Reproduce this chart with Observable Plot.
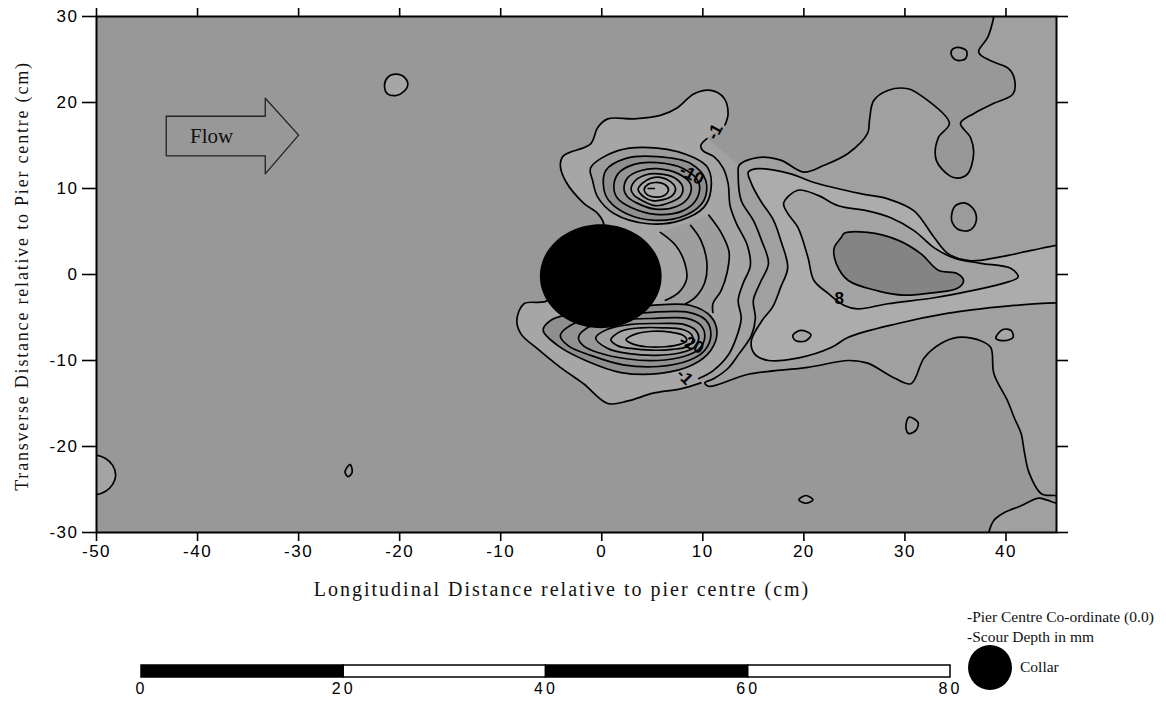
<!DOCTYPE html>
<html><head><meta charset="utf-8">
<script src="https://cdn.jsdelivr.net/npm/d3@7"></script>
<script src="https://cdn.jsdelivr.net/npm/@observablehq/plot@0.6"></script>
<style>
body{margin:0;background:#fff;}
#wrap{position:relative;width:1166px;height:704px;overflow:hidden;background:#fff;}
.lab{position:absolute;font-family:"Liberation Serif","Times New Roman",serif;color:#111;white-space:nowrap;line-height:1;}
</style></head><body><div id="wrap"></div>
<script>
// ---------- axes ----------
const xTicks = [-50,-40,-30,-20,-10,0,10,20,30,40];
const yTicks = [-30,-20,-10,0,10,20,30];

// ---------- contour lines (cm) ----------
const contourUpperLeft = [[12.2,17.4],[12.5,18.7],[12.1,20.5],[10.8,21.4],[9.1,21.0],[7.5,19.4],[5.8,18.5],[3.2,18.1],[0.6,18.1],[-0.4,17.1],[-1.1,15.2],[-3.8,13.8],[-4.1,12.7],[-3.6,10.9],[-1.8,8.3],[-0.4,7.1],[0.2,5.6],[-3.0,2.0],[-5.3,-3.0],[-7.7,-3.4],[-8.4,-5.3],[-8.0,-6.9],[-6.4,-8.6],[-4.1,-10.8],[-1.8,-12.7],[0.6,-15.0],[2.6,-14.7],[5.1,-13.8],[7.8,-13.3],[9.8,-12.6]];
const contourMid1 = [[10.4,15.8],[9.8,15.0],[10.0,14.4],[11.1,13.7],[12.0,12.4],[12.5,10.6],[12.7,8.0],[13.3,6.0],[14.4,3.4],[14.7,1.0],[14.0,-1.0],[13.5,-3.0],[13.8,-5.1],[13.3,-7.4],[12.5,-9.4],[11.0,-11.2],[9.6,-12.1]];
const contourTopRight = [[38.9,31],[38.8,30],[38.2,27.6],[37.3,26.0],[37.5,25.5],[38.8,24.7],[40.2,24.0],[40.8,22.9],[40.7,21.0],[38.8,19.9],[36.8,18.7],[35.5,17.6],[36.5,15.9],[36.8,14.1],[36.2,11.7],[35.2,11.2],[34.4,11.5],[33.1,13.3],[33.3,15.9],[34.4,17.6],[31.6,20.8],[30.3,21.6],[28.3,21.4],[26.9,20.2],[26.5,18.0],[26.3,16.4],[24.4,14.1],[22.0,12.7],[20.0,11.9],[17.7,13.3],[15.4,13.6]];
const contourMid2 = [[13.6,12.7],[13.5,11.7],[13.8,8.6],[15.0,6.3],[15.8,4.0],[16.5,1.3],[15.7,-0.9],[15.0,-3.0],[15.2,-5.1],[14.8,-7.1],[13.6,-9.2],[12.5,-10.9],[11.1,-12.1],[10.2,-12.6]];
const contourLower = [[10.6,-13.0],[14.5,-11.6],[20.4,-10.8],[24.4,-10.0],[26.3,-10.3],[28.9,-12.0],[30.6,-12.7],[31.9,-9.7],[33.6,-8.0],[35.2,-7.3],[37.5,-7.7],[38.5,-8.5],[38.8,-11.5],[40.2,-14.8],[40.8,-16.6],[41.5,-18.5],[41.8,-20.5],[42.3,-23.1],[43.5,-25.5],[44.8,-25.7],[46,-25.8]];
const contourCornerLens = [[38.2,-31],[38.3,-30],[38.8,-28.6],[39.8,-27.7],[41.5,-26.9],[43.2,-26.0],[44.0,-26.2],[45,-26.6],[46,-26.8]];
const contourWake = [[46,3.5],[45,3.4],[42.5,2.8],[39.2,2.0],[36.5,1.6],[34.3,2.4],[32.9,4.3],[30.9,7.4],[28.3,8.8],[25.6,9.4],[21.0,10.7],[18.7,11.7],[15.4,12.3],[14.5,11.9],[14.8,10.6],[15.7,8.6],[17.0,6.3],[17.7,4.0],[18.4,0.8],[17.7,-1.5],[16.9,-3.8],[15.9,-5.3],[14.8,-7.7],[15.1,-9.2],[16.5,-10.0],[19.5,-9.7],[22.7,-8.5],[24.4,-7.3],[29.3,-5.7],[34.3,-4.5],[37.5,-4.0],[40.8,-3.6],[45,-3.3],[46,-3.3]];
const contourWakeInner = [[18.0,8.3],[19.4,9.8],[21.4,9.2],[23.4,8.0],[26.3,7.4],[28.6,6.6],[30.9,5.1],[32.9,3.1],[34.9,1.9],[37.5,1.3],[40.5,0.7],[41.2,-0.3],[39.8,-1.0],[36.5,-1.9],[32.9,-2.7],[28.3,-3.4],[25.3,-4.0],[24.0,-3.6],[22.4,-2.2],[21.0,-0.7],[20.4,2.0],[19.4,5.5],[18.4,7.1]];
const contourMound = [[23.7,4.3],[24.0,4.8],[26.3,4.9],[29.3,4.0],[31.6,2.4],[33.3,0.5],[35.2,0.1],[35.8,-0.7],[35.2,-1.6],[32.9,-2.1],[29.9,-2.4],[27.3,-1.9],[24.4,-0.7],[23.2,1.3],[23.0,3.1]];
const hug1 = [[5.8,4.9],[7.3,3.4],[8.2,1.4],[8.4,-0.5],[7.6,-2.1],[6.3,-3.0]];
const hug2 = [[8.8,5.7],[9.8,4.0],[10.4,1.4],[10.2,-0.9],[9.3,-2.6],[8.3,-3.4]];
const hug3 = [[10.6,6.9],[11.8,4.9],[12.6,2.6],[12.4,0.2],[11.8,-1.9],[11.0,-3.4],[11.0,-4.4]];
const leftEdgeLoop = [[-51,-21.0],[-50,-21.0],[-49.1,-21.4],[-48.4,-22.2],[-48.1,-23.3],[-48.4,-24.4],[-49.1,-25.2],[-50,-25.6],[-51,-25.6]];

// small closed islands
const islands = [
  [[-21.5,22.0],[-21.2,22.9],[-20.4,23.3],[-19.5,22.9],[-19.2,22.0],[-19.9,21.0],[-20.4,20.8],[-21.2,21.0]],
  [[34.6,6.7],[35.0,8.0],[36.0,8.3],[36.9,7.4],[37.0,6.0],[36.3,5.1],[35.2,5.3],[34.7,6.0]],
  [[34.6,26.0],[35.2,26.4],[36.1,26.0],[36.0,25.1],[35.2,24.9],[34.7,25.3]],
  [[18.9,-7.1],[19.7,-6.5],[20.7,-7.0],[20.2,-7.7],[19.2,-7.7]],
  [[39.0,-7.4],[39.7,-6.4],[40.5,-6.5],[40.7,-7.3],[39.8,-7.7]],
  [[30.1,-17.8],[30.4,-16.6],[31.3,-17.2],[31.1,-18.1],[30.4,-18.5]],
  [[19.5,-26.2],[20.2,-25.7],[20.9,-26.2],[20.2,-26.6]],
  [[-25.3,-22.6],[-24.9,-22.1],[-24.7,-23.0],[-25.1,-23.5],[-25.4,-23.0]]
];

// scour hole upper rings, outer to inner
const upperRings = [
  [[-0.9,10.9],[-1.1,12.4],[1.6,14.4],[5.5,14.7],[9.1,13.6],[10.5,12.4],[10.8,9.8],[10.1,7.8],[7.8,6.3],[4.6,5.9],[1.2,7.1],[-0.4,9.0]],
  [[0.2,10.0],[0.4,12.1],[2.4,13.5],[5.5,13.7],[8.8,12.9],[10.3,10.9],[10.1,8.6],[8.3,6.9],[5.3,6.3],[2.4,7.1],[0.7,8.6]],
  [[1.2,10.0],[1.6,11.7],[3.2,12.8],[5.5,13.0],[8.1,12.3],[9.6,10.7],[9.4,8.8],[8.0,7.4],[5.3,7.0],[2.9,7.8],[1.6,8.8]],
  [[2.2,9.9],[2.6,11.3],[3.9,12.1],[5.5,12.3],[7.6,11.7],[8.8,10.5],[8.6,9.0],[7.4,7.9],[5.3,7.6],[3.5,8.3],[2.5,9.1]],
  [[2.9,9.9],[3.3,10.9],[4.4,11.6],[5.6,11.7],[7.1,11.3],[8.0,10.2],[7.8,9.1],[6.8,8.4],[5.3,8.0],[4.0,8.6],[3.2,9.2]],
  [[3.6,9.9],[4.0,10.6],[4.9,11.2],[5.8,11.3],[6.8,10.8],[7.3,10.0],[7.0,9.2],[6.1,8.7],[5.0,8.6],[4.2,9.0]],
  [[4.2,9.9],[4.6,10.5],[5.3,10.7],[6.2,10.5],[6.6,9.9],[6.2,9.2],[5.3,9.0],[4.6,9.2]]
];
// lower rings, outer to inner
const lowerRings = [
  [[-5.8,-6.5],[-5.0,-5.3],[-2.6,-4.5],[0.9,-4.2],[4.9,-3.6],[8.8,-3.6],[10.8,-4.9],[11.4,-6.7],[10.8,-8.8],[9.0,-10.5],[5.8,-11.5],[1.9,-11.4],[-1.6,-10.0],[-4.3,-8.3]],
  [[-4.1,-7.1],[-2.6,-5.6],[0.9,-4.9],[4.9,-4.4],[8.6,-4.4],[10.3,-5.3],[10.8,-7.0],[10.2,-8.8],[8.6,-10.0],[5.6,-10.7],[2.1,-10.5],[-1.1,-9.4],[-3.3,-8.3]],
  [[-2.3,-7.3],[-1.1,-6.0],[1.9,-5.3],[5.3,-5.1],[8.4,-5.1],[9.8,-5.9],[10.2,-7.2],[9.6,-8.7],[8.2,-9.5],[5.5,-10.0],[2.4,-9.8],[-0.3,-9.1],[-1.8,-8.3]],
  [[-0.6,-7.4],[0.5,-6.4],[2.9,-5.8],[5.6,-5.7],[8.1,-5.8],[9.3,-6.5],[9.6,-7.4],[9.1,-8.5],[7.8,-9.1],[5.4,-9.4],[2.7,-9.2],[0.6,-8.6]],
  [[0.9,-7.6],[1.9,-6.6],[3.9,-6.2],[6.0,-6.2],[8.0,-6.4],[8.9,-7.0],[9.0,-7.7],[8.4,-8.4],[7.0,-8.7],[4.9,-8.8],[2.9,-8.6],[1.6,-8.3]],
  [[2.4,-7.6],[3.4,-6.9],[5.0,-6.6],[6.8,-6.7],[8.1,-7.1],[8.4,-7.7],[7.8,-8.1],[6.3,-8.4],[4.4,-8.4],[3.1,-8.1]]
];
const holeCentreMark = [[4.6,10.0],[5.2,10.0]];

// contour labels
const contourLabels = [
  {x: 8.9, y: 11.6, text: "-10", rotate: 28},
  {x: 8.9, y: -8.1, text: "-20", rotate: 25},
  {x: 11.2, y: 16.6, text: "-1", rotate: -62},
  {x: 8.2, y: -11.9, text: "-1", rotate: 45},
  {x: 23.5, y: -2.8, text: "8", rotate: 0}
];

// pier collar (centre & radius, cm)
const collar = {x: -0.1, y: -0.2, r: 5.95};

// flow arrow annotation
const flowArrow = [[-43.1,18.4],[-33.3,18.4],[-33.3,20.5],[-30.0,16.2],[-33.3,11.7],[-33.3,13.8],[-43.1,13.8]];
const flowLabel = [{x: -38.6, y: 16.1, text: "Flow"}];

// scale bar
const scaleStarts = [0,20,40,60];
const scaleEnds = [20,40,60,80];
const scaleFills = ["black","white","black","white"];
const scaleLabels = [0,20,40,60,80];

// ---------- build ----------
const collarOutline = d3.range(0, 360, 3).map(a => [collar.x + collar.r*Math.cos(a*Math.PI/180), collar.y + collar.r*Math.sin(a*Math.PI/180)]);
const X = d => d[0], Y = d => d[1];
const stroke = (pts, curve="catmull-rom") => Plot.line(pts, {x: X, y: Y, stroke: "#000", strokeWidth: 1.7, curve, clip: true});
const fillP = (pts, fill, curve="catmull-rom") => Plot.line(pts, {x: X, y: Y, fill, stroke: "none", curve, clip: true});
const rev = a => a.slice().reverse();

const wakeEnvelope = [...contourTopRight, ...contourMid2, ...contourLower, [47,-25.8],[47,32],[38.9,32]];
const scourEnvelope = [...contourUpperLeft, ...rev(contourMid1)];
const midBand = [...contourMid1, ...rev(contourMid2)];
const hugBand = [...hug1, ...rev(hug3)];
const cornerLens = [...contourCornerLens, [47,-31]];

const upperFills = ["#9c9c9c","#8f8f8f","#949494","#9c9c9c","#a4a4a4","#a9a9a9","#acacac"];
const lowerFills = ["#8f8f8f","#929292","#989898","#a0a0a0","#a6a6a6","#aaaaaa"];
const islandFills = ["#a6a6a6","#9b9b9b","#9b9b9b","#a6a6a6","#a6a6a6","#9b9b9b","#a0a0a0","#9b9b9b"];

const marks = [
  Plot.frame({fill: "#989898", stroke: "none"}),
  fillP(wakeEnvelope, "#a0a0a0"),
  fillP(cornerLens, "#a0a0a0"),
  fillP(leftEdgeLoop, "#a4a4a4"),
  fillP(midBand, "#a2a2a2"),
  fillP(scourEnvelope, "#a6a6a6"),
  fillP(hugBand, "#9e9e9e"),
  fillP(contourWake, "#acacac"),
  fillP(contourWakeInner, "#a4a4a4", "catmull-rom-closed"),
  fillP(contourMound, "#848484", "catmull-rom-closed"),
  ...islands.map((p,i) => fillP(p, islandFills[i], "catmull-rom-closed")),
  ...upperRings.map((p,i) => fillP(p, upperFills[i], "catmull-rom-closed")),
  ...lowerRings.map((p,i) => fillP(p, lowerFills[i], "catmull-rom-closed")),
  // contour strokes
  stroke(contourUpperLeft), stroke(contourMid1),
  stroke([...contourTopRight, ...contourMid2, ...contourLower]),
  stroke(contourCornerLens), stroke(contourWake),
  stroke(contourWakeInner, "catmull-rom-closed"), stroke(contourMound, "catmull-rom-closed"),
  stroke(hug1), stroke(hug2), stroke(hug3), stroke(leftEdgeLoop),
  ...islands.map(p => stroke(p, "catmull-rom-closed")),
  ...upperRings.map(p => stroke(p, "catmull-rom-closed")),
  ...lowerRings.map(p => stroke(p, "catmull-rom-closed")),
  stroke(holeCentreMark, "linear"),
  // collar
  Plot.line(collarOutline, {x: X, y: Y, fill: "#000", stroke: "#000", curve: "linear-closed"}),
  // labels
  Plot.text(contourLabels, {x: "x", y: "y", text: "text", rotate: "rotate", fontSize: 17, fontWeight: "bold", fill: "#000", fontFamily: "Liberation Sans, Arial, sans-serif"}),
  // flow arrow
  Plot.line(flowArrow, {x: X, y: Y, stroke: "#222", strokeWidth: 1.3, curve: "linear-closed", fill: "none"}),
  Plot.text(flowLabel, {x: "x", y: "y", text: "text", fontSize: 21, fill: "#111", fontFamily: "Liberation Serif, Times New Roman, serif"}),
  Plot.frame({stroke: "#000", strokeWidth: 2}),
  Plot.axisX({ticks: xTicks, anchor: "bottom", tickSize: 9, tickPadding: 3, label: null, tickFormat: d => String(d), strokeWidth: 1.6}),
  Plot.axisX({ticks: xTicks, anchor: "top", tickSize: 9, label: null, tickFormat: () => "", strokeWidth: 1.6}),
  Plot.axisY({ticks: yTicks, anchor: "left", tickSize: 14, tickPadding: 4, label: null, tickFormat: d => String(d), strokeWidth: 1.6}),
  Plot.axisY({ticks: yTicks, anchor: "right", tickSize: 11, label: null, tickFormat: () => "", strokeWidth: 1.6})
];

const main = Plot.plot({
  width: 1166, height: 560,
  marginLeft: 96, marginRight: 110, marginTop: 16, marginBottom: 28,
  x: {domain: [-50, 45]},
  y: {domain: [-30, 30]},
  style: {fontFamily: "Liberation Sans, Arial, sans-serif", fontSize: "16px", color: "#000", background: "transparent", overflow: "visible"},
  marks
});
// enlarge tick labels to match the reference's wide digits
main.querySelectorAll('g[aria-label="x-axis tick label"] text, g[aria-label="y-axis tick label"] text').forEach(t => {
  t.style.fontSize = "17px"; t.style.letterSpacing = "1.5px"; t.style.fontFamily = "Liberation Sans, Arial, sans-serif";
});
const wrap = document.getElementById("wrap");
main.style.position = "absolute"; main.style.left = "0px"; main.style.top = "0px";
wrap.appendChild(main);

const bar = Plot.plot({
  width: 1166, height: 48,
  marginLeft: 141, marginRight: 216, marginTop: 10, marginBottom: 26,
  x: {domain: [0, 80]},
  y: {domain: [0, 1], axis: null},
  color: {type: "identity"},
  style: {fontFamily: "Liberation Sans, Arial, sans-serif", fontSize: "15px", color: "#000", background: "transparent"},
  marks: [
    Plot.rect(scaleStarts, {x1: d => d, x2: (d,i) => scaleEnds[i], y1: 0, y2: 1, fill: (d,i) => scaleFills[i], stroke: "#000", strokeWidth: 1.5}),
    Plot.axisX({ticks: scaleLabels, tickSize: 0, tickPadding: 5, label: null, tickFormat: d => String(d)})
  ]
});
bar.querySelectorAll('g[aria-label="x-axis tick label"] text').forEach(t => {
  t.style.fontSize = "16px"; t.style.letterSpacing = "3px";
});
bar.style.position = "absolute"; bar.style.left = "0px"; bar.style.top = "655px";
wrap.appendChild(bar);

function addLabel(text, css) {
  const d = document.createElement("div");
  d.className = "lab"; d.textContent = text;
  Object.assign(d.style, css);
  wrap.appendChild(d);
  return d;
}
addLabel("Longitudinal Distance relative to pier centre (cm)", {left: "562px", top: "579px", fontSize: "20px", letterSpacing: "2px", transform: "translateX(-50%)"});
addLabel("Transverse Distance relative to Pier centre (cm)", {left: "22px", top: "276px", fontSize: "18px", letterSpacing: "1.8px", transform: "translate(-50%,-50%) rotate(-90deg)"});
addLabel("-Pier Centre Co-ordinate (0.0)", {left: "967px", top: "609px", fontSize: "15.5px"});
addLabel("-Scour Depth in mm", {left: "967px", top: "629px", fontSize: "15.5px"});
addLabel("Collar", {left: "1020px", top: "659px", fontSize: "15.5px"});
const dot = document.createElement("div");
Object.assign(dot.style, {position: "absolute", left: "968px", top: "645px", width: "44px", height: "45px", borderRadius: "50%", background: "#000"});
wrap.appendChild(dot);
</script>
</body></html>
